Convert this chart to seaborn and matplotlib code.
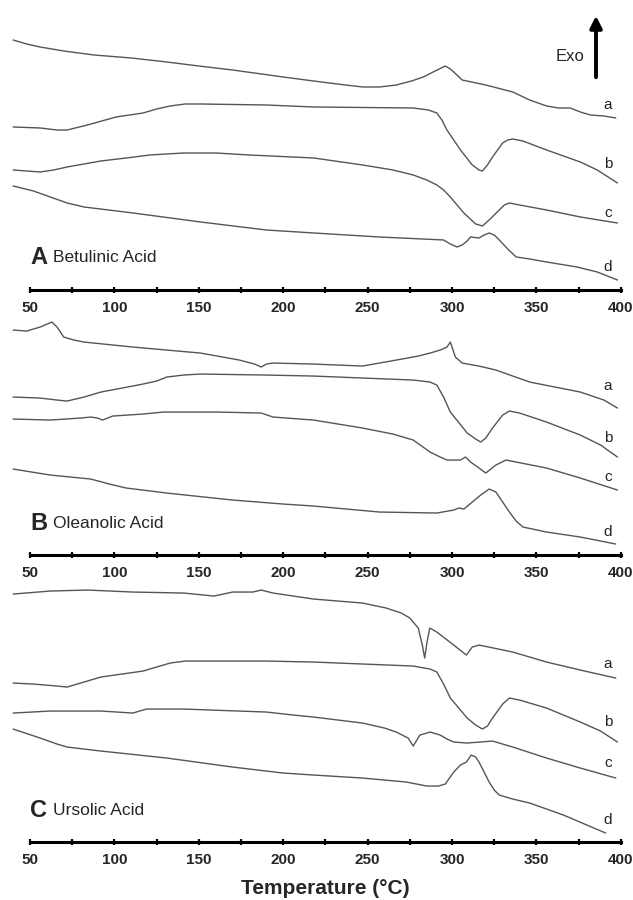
import matplotlib
matplotlib.use("Agg")
import matplotlib.pyplot as plt
import numpy as np
import pandas as pd
import seaborn as sns

# %%
# DSC traces (heat flow in arbitrary units, exo up)
# Betulinic acid
A_a_T = [40, 48, 56, 70, 88, 110, 131, 150, 170, 200, 218, 232, 247, 257, 267, 276, 283, 290, 296, 299, 301, 306,
         320, 336, 346, 356, 363, 370, 376, 382, 390, 397]
A_a_y = [250, 246, 243, 239, 235, 232, 228, 224, 220, 213, 209, 206, 203, 203, 205, 209, 213, 219, 224, 221, 218, 210,
         205, 198, 190, 184, 182, 182, 178, 175, 174, 172]
A_b_T = [40, 56, 66, 72, 84, 101, 117, 125, 133, 142, 151, 190, 218, 277, 286, 291, 294, 297, 305, 312, 316, 318,
         321, 324, 330, 333, 336, 342, 356, 376, 386, 398]
A_b_y = [163, 162, 160, 160, 165, 173, 177, 181, 184, 186, 186, 185, 183, 182, 180, 177, 170, 160, 140, 125, 120, 119,
         125, 133, 147, 150, 151, 149, 140, 128, 120, 107]
A_c_T = [40, 56, 64, 72, 92, 107, 121, 141, 160, 180, 218, 247, 265, 277, 285, 291, 295, 299, 307, 314, 318, 322,
         328, 331, 334, 340, 356, 376, 398]
A_c_y = [120, 118, 120, 123, 129, 132, 135, 137, 137, 135, 132, 125, 120, 115, 110, 105, 100, 93, 77, 66, 64, 70,
         80, 85, 87, 85, 80, 73, 67]
A_d_T = [40, 52, 62, 72, 82, 111, 151, 190, 218, 257, 295, 299, 303, 306, 309, 311, 316, 319, 322, 325, 328, 333, 338,
         346, 356, 374, 386, 398]
A_d_y = [104, 99, 93, 87, 83, 77, 68, 60, 57, 53, 50, 46, 43, 45, 49, 53, 52, 55, 57, 55, 50, 41, 33,
         31, 28, 23, 18, 10]

# Oleanolic acid
B_a_T = [40, 48, 56, 63, 66, 70, 76, 82, 111, 151, 174, 183, 187, 190, 194, 218, 247, 267, 280, 287, 293, 297, 299,
         302, 306, 316, 326, 346, 376, 390, 398]
B_a_y = [225, 224, 228, 233, 228, 218, 215, 213, 208, 202, 195, 191, 188, 191, 192, 191, 189, 195, 199, 202, 205, 208,
         213, 198, 192, 189, 185, 173, 163, 155, 147]
B_b_T = [40, 56, 66, 72, 82, 92, 117, 125, 131, 141, 151, 190, 218, 277, 287, 291, 295, 299, 309, 314, 317, 320, 324,
         330, 334, 340, 356, 376, 388, 398]
B_b_y = [158, 157, 155, 154, 158, 163, 171, 174, 178, 180, 181, 180, 179, 175, 173, 170, 158, 143, 122, 116, 113, 117,
         127, 140, 144, 142, 133, 120, 110, 98]
B_c_T = [40, 62, 80, 86, 90, 93, 99, 117, 129, 161, 187, 194, 218, 247, 265, 277, 287, 293, 297, 305, 308, 311, 316,
         320, 326, 332, 356, 376, 398]
B_c_y = [136, 135, 137, 138, 137, 135, 139, 141, 143, 143, 142, 138, 135, 127, 121, 115, 103, 98, 95, 95, 98, 93, 87,
         82, 90, 95, 87, 77, 65]
B_d_T = [40, 62, 86, 97, 107, 131, 170, 200, 218, 257, 291, 301, 304, 307, 312, 317, 322, 326, 330, 334, 338, 342,
         356, 376, 397]
B_d_y = [86, 80, 76, 71, 67, 62, 55, 51, 49, 43, 42, 45, 47, 46, 53, 60, 66, 63, 53, 43, 34, 28,
         23, 18, 11]

# Ursolic acid
C_a_T = [40, 62, 84, 111, 141, 159, 170, 182, 187, 194, 218, 247, 261, 270, 275, 280, 282.4, 283.8, 285.2, 286.8,
         291, 301, 308.5, 312, 316, 336, 356, 376, 397]
C_a_y = [248, 251, 252, 250, 249, 246, 250, 250, 252, 249, 243, 239, 234, 229, 224, 214, 197, 184, 200, 214,
         210, 197, 187, 195, 197, 190, 180, 172, 164]
C_b_T = [40, 52, 66, 72, 82, 92, 117, 125, 133, 142, 151, 190, 218, 277, 287, 291, 295, 299, 309, 314, 318, 321, 324,
         330, 334, 340, 356, 376, 388, 398]
C_b_y = [159, 158, 156, 155, 160, 165, 171, 175, 179, 181, 181, 181, 180, 176, 173, 170, 158, 144, 124, 117, 113, 116,
         124, 138, 144, 142, 134, 120, 111, 100]
C_c_T = [40, 62, 92, 111, 119, 141, 190, 206, 218, 247, 260, 267, 274, 277, 281, 287, 293, 297, 301, 309, 324, 330,
         336, 356, 376, 397]
C_c_y = [129, 131, 131, 129, 133, 133, 130, 127, 125, 119, 114, 110, 104, 96, 107, 110, 107, 103, 100, 99, 101, 98,
         95, 84, 74, 64]
C_d_T = [40, 56, 66, 72, 92, 131, 170, 200, 218, 247, 273, 285, 292, 296, 301, 305, 308.5, 311.4, 314, 316, 322, 325,
         328, 336, 346, 366, 391]
C_d_y = [113, 104, 98, 95, 91, 84, 75, 69, 67, 64, 60, 56, 56, 58, 70, 77, 80, 87, 85, 80, 60, 52,
         47, 43, 39, 27, 9]

panel_letters = ["A", "B", "C"]
panel_names = ["Betulinic Acid", "Oleanolic Acid", "Ursolic Acid"]
curve_labels = ["a", "b", "c", "d"]
label_y = [[185, 126, 77, 23], [169, 117, 78, 23], [178, 120, 79, 22]]
x_ticks = [50, 100, 150, 200, 250, 300, 350, 400]

panels = [
    [(A_a_T, A_a_y), (A_b_T, A_b_y), (A_c_T, A_c_y), (A_d_T, A_d_y)],
    [(B_a_T, B_a_y), (B_b_T, B_b_y), (B_c_T, B_c_y), (B_d_T, B_d_y)],
    [(C_a_T, C_a_y), (C_b_T, C_b_y), (C_c_T, C_c_y), (C_d_T, C_d_y)],
]

# %%
sns.set_style("white")
plt.rcParams["font.family"] = ["Liberation Sans", "DejaVu Sans"]

fig = plt.figure(figsize=(6.33, 9), dpi=100)
# axes boxes in figure fractions, bottom spine lands where the reference axis lines are
boxes = [
    [0.0154, 0.6778, 0.9707, 0.3222],
    [0.0154, 0.3833, 0.9707, 0.2833],
    [0.0154, 0.0644, 0.9707, 0.2911],
]
ylims = [290, 255, 262]
line_col = "#555555"

for i, box in enumerate(boxes):
    ax = fig.add_axes(box)
    ax.patch.set_alpha(0)
    for j, (T, y) in enumerate(panels[i]):
        df = pd.DataFrame({"T": T, "y": y})
        sns.lineplot(data=df, x="T", y="y", ax=ax, color=line_col, lw=1.0, sort=False, estimator=None)
        ax.text(392.4, label_y[i][j], curve_labels[j], fontsize=11, ha="center", va="center", color="#222222")

    ax.set_xlim(38, 402)
    ax.set_ylim(0, ylims[i])
    for s in ["top", "left", "right"]:
        ax.spines[s].set_visible(False)
    ax.spines["bottom"].set_bounds(50, 400)
    ax.spines["bottom"].set_linewidth(2.2)
    ax.spines["bottom"].set_color("black")
    ax.set_yticks([])
    ax.set_xticks(x_ticks)
    ax.set_xticks(np.arange(75, 400, 50), minor=True)
    ax.tick_params(axis="x", which="both", bottom=True, direction="inout", length=5, width=1.6,
                   color="black", pad=5.5)
    ax.set_xticklabels([str(t) for t in x_ticks], fontsize=11, fontweight="bold")
    ax.set_xlabel("")
    ax.set_ylabel("")

    ax.text(50, 32, panel_letters[i], fontsize=17, fontweight="bold", ha="left", va="center")
    ax.text(63.6, 32, panel_names[i], fontsize=12.5, ha="left", va="center")

    if i == 0:
        ax.annotate("", xy=(385.3, 277), xytext=(385.3, 210),
                    arrowprops=dict(arrowstyle="-|>,head_length=0.7,head_width=0.35", lw=2.8, color="black"))
        ax.text(370, 233, "Exo", fontsize=12, ha="center", va="center")

fig.text(325.5 / 633, (900 - 888) / 900, "Temperature (°C)", fontsize=15, fontweight="bold",
         ha="center", va="center")

plt.savefig("out.png", dpi=100)
